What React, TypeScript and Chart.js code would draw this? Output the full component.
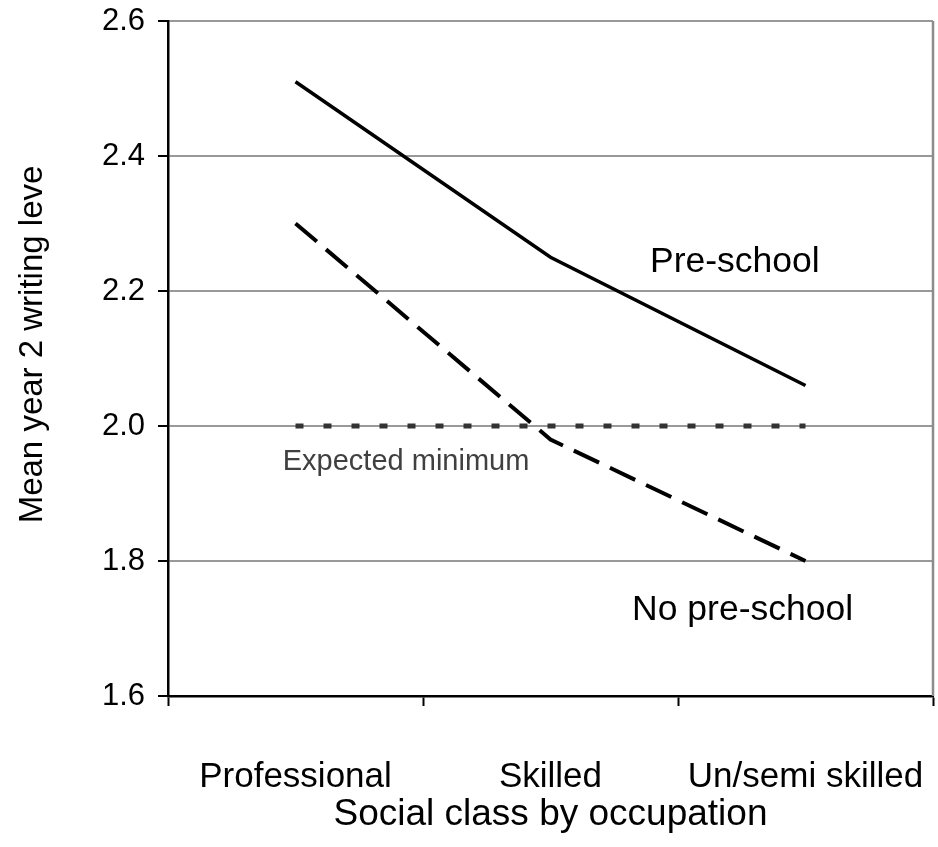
import React, { useEffect, useRef } from "react";
import { Chart, registerables } from "chart.js";

Chart.register(...registerables);

const categories = ["Professional", "Skilled", "Un/semi skilled"];
const preSchool = [2.51, 2.25, 2.06];
const noPreSchool = [2.3, 1.98, 1.8];
const expectedMinimum = [2.0, 2.0, 2.0];
const yTicks = [1.6, 1.8, 2.0, 2.2, 2.4, 2.6];
const yTitle = "Mean year 2 writing leve";

// annotation labels: [text, x (category index), y (value), font size, colour]
const annotations: [string, number, number, number, string][] = [
  ["Pre-school", 1.39, 2.243, 35.5, "#000"],
  ["No pre-school", 1.32, 1.727, 35.5, "#000"],
  ["Expected minimum", -0.05, 1.947, 29, "#404040"],
];

const FONT = "'Liberation Sans', Arial, Helvetica, sans-serif";

const extrasPlugin = {
  id: "extras",
  afterDraw(chart: any) {
    const { ctx, chartArea, scales } = chart;
    ctx.save();
    // right border
    ctx.strokeStyle = "#8c8c8c";
    ctx.lineWidth = 2.5;
    ctx.beginPath();
    ctx.moveTo(chartArea.right, chartArea.top);
    ctx.lineTo(chartArea.right, chartArea.bottom);
    ctx.stroke();
    // annotations
    ctx.textBaseline = "middle";
    ctx.textAlign = "left";
    for (const [text, xv, yv, size, color] of annotations) {
      ctx.font = `${size}px ${FONT}`;
      ctx.fillStyle = color;
      ctx.fillText(text, scales.x.getPixelForValue(xv), scales.y.getPixelForValue(yv));
    }
    // y-axis title (slightly above the plot centre, as in the original)
    ctx.font = `33px ${FONT}`;
    ctx.fillStyle = "#000";
    ctx.textAlign = "center";
    ctx.translate(33, (chartArea.top + chartArea.bottom) / 2 - 14);
    ctx.rotate(-Math.PI / 2);
    ctx.fillText(yTitle, 0, 0);
    ctx.restore();
  },
};

function zeroPad(scale: any) {
  scale.paddingLeft = 0;
  scale.paddingRight = 0;
  scale.paddingTop = 0;
  scale.paddingBottom = 0;
}

export default function App() {
  const ref = useRef<HTMLCanvasElement>(null);
  useEffect(() => {
    document.body.style.margin = "0";
    const chart = new Chart(ref.current!, {
      type: "line",
      data: {
        labels: categories,
        datasets: [
          {
            label: "Pre-school",
            data: preSchool,
            borderColor: "#000",
            borderWidth: 3.5,
            pointRadius: 0,
            tension: 0,
          },
          {
            label: "No pre-school",
            data: noPreSchool,
            borderColor: "#000",
            borderWidth: 4,
            borderDash: [28, 12],
            pointRadius: 0,
            tension: 0,
          },
          {
            label: "Expected minimum",
            data: expectedMinimum,
            borderColor: "#333",
            borderWidth: 5,
            borderDash: [8, 20],
            pointRadius: 0,
            tension: 0,
            order: 5,
          },
        ],
      },
      options: {
        responsive: false,
        animation: false,
        devicePixelRatio: 1,
        layout: { padding: { left: 0, right: 5, top: 21, bottom: 0 } },
        plugins: {
          legend: { display: false },
          tooltip: { enabled: false },
          title: { display: false },
        },
        scales: {
          x: {
            type: "category",
            offset: true,
            afterFit(scale: any) {
              scale.height = 151;
              zeroPad(scale);
            },
            grid: {
              offset: true,
              drawOnChartArea: false,
              drawTicks: true,
              tickLength: 10,
              tickColor: "#000",
              tickWidth: 2,
            },
            border: { color: "#000", width: 2.5 },
            ticks: {
              color: "#000",
              font: { family: FONT, size: 35 },
              padding: 50,
              maxRotation: 0,
              autoSkip: false,
            },
            title: {
              display: true,
              text: "Social class by occupation",
              color: "#000",
              font: { family: FONT, size: 37 },
              padding: { top: 0, bottom: 10 },
            },
          },
          y: {
            min: 1.6,
            max: 2.6,
            afterFit(scale: any) {
              scale.width = 168;
              zeroPad(scale);
            },
            afterBuildTicks(scale: any) {
              scale.ticks = yTicks.map((v) => ({ value: v }));
            },
            grid: {
              color: "#999",
              lineWidth: 2,
              tickLength: 10,
              tickColor: "#000",
              tickWidth: 2,
            },
            border: { color: "#000", width: 2.5 },
            ticks: {
              color: "#000",
              font: { family: FONT, size: 31 },
              padding: 13,
              callback: (v: any) => Number(v).toFixed(1),
            },
            title: { display: false },
          },
        },
      },
      plugins: [extrasPlugin],
    });
    return () => chart.destroy();
  }, []);
  return (
    <div style={{ width: 938, height: 847 }}>
      <canvas ref={ref} width={938} height={847} />
    </div>
  );
}
